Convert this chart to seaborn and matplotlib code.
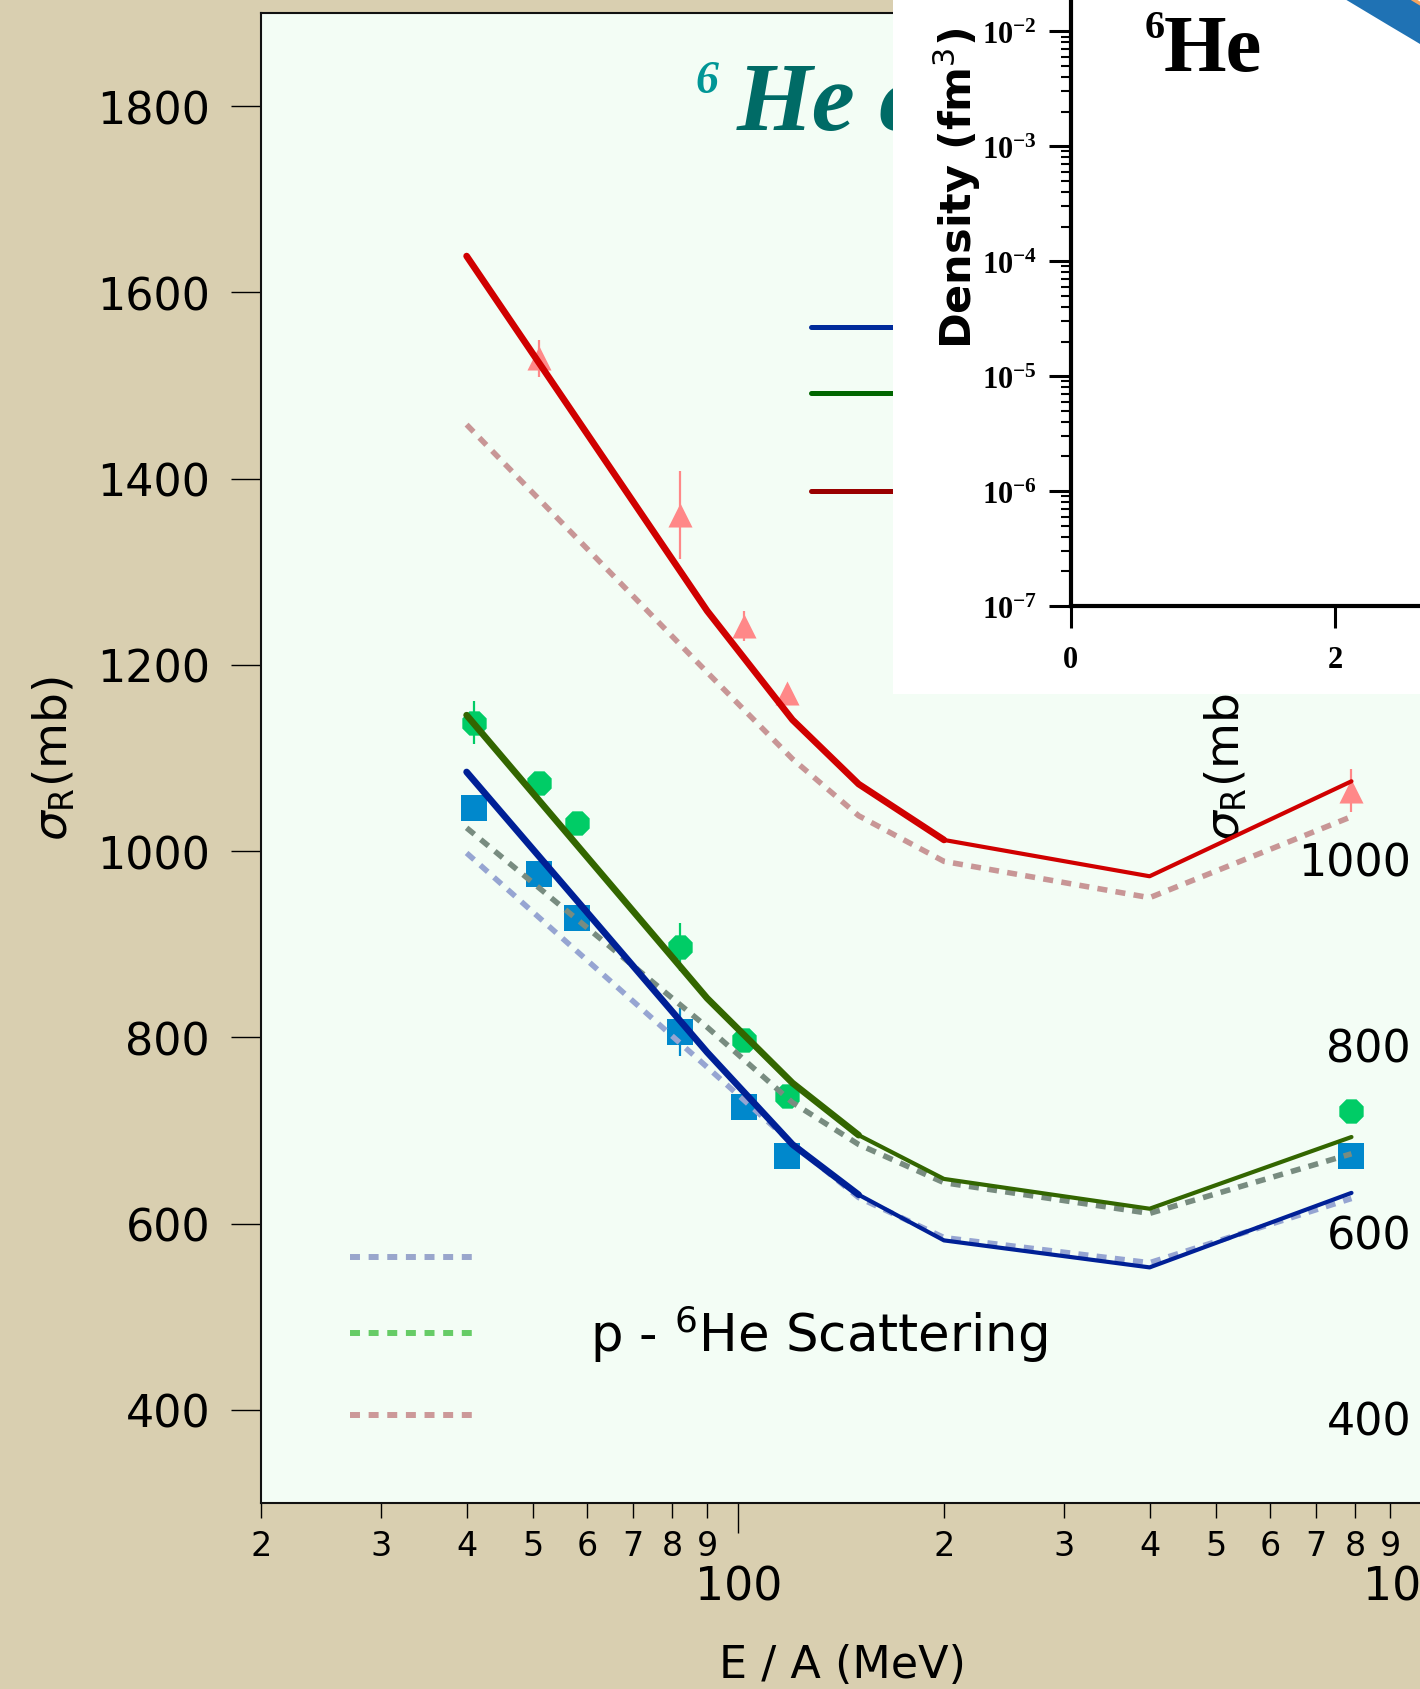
import numpy as np
import pandas as pd
import matplotlib
matplotlib.use("Agg")
import matplotlib.pyplot as plt
import seaborn as sns
from matplotlib import font_manager
from matplotlib.lines import Line2D
from matplotlib.patches import Rectangle
from matplotlib.ticker import FuncFormatter, LogLocator, NullFormatter

# ---------------- data ----------------
E_model = [40, 90, 120, 150, 200, 400, 790]
sig_blue = [1085, 784, 685, 631, 582, 553, 633]
sig_green = [1146, 842, 751, 695, 648, 616, 693]
sig_red = [1639, 1258, 1141, 1072, 1012, 973, 1075]
sig_blue_d = [998, 768, 686, 628, 585, 558, 627]
sig_green_d = [1025, 811, 730, 685, 644, 611, 675]
sig_red_d = [1458, 1192, 1099, 1038, 989, 950, 1037]

E_tri = [51, 82, 102, 118, 790]
sig_tri = [1529, 1361, 1242, 1170, 1065]
err_tri = [20, 47, 16, 8, 23]
E_oct = [41, 51, 58, 82, 102, 118, 790]
sig_oct = [1138, 1073, 1030, 897, 797, 737, 721]
err_oct = [23, 0, 0, 26, 0, 0, 5]
E_sq = [41, 51, 58, 82, 102, 118, 790]
sig_sq = [1046, 975, 928, 806, 725, 673, 673]
err_sq = [0, 0, 0, 26, 0, 0, 0]

r_in = [1.8, 2.0, 2.2, 2.4, 2.6, 2.8]
rho_lo = [0.0297, 0.0217, 0.0158, 0.0115, 0.0084, 0.0061]
rho_hi = [0.0665, 0.0486, 0.0354, 0.0258, 0.0188, 0.0137]

yticks_main = [400, 600, 800, 1000, 1200, 1400, 1600, 1800]
xmajor = [100, 1000]
xmajor_labels = ["100", "1000"]
xminor = [20, 30, 40, 50, 60, 70, 80, 90, 200, 300, 400, 500, 600, 700, 800, 900]
xminor_labels = ["2", "3", "4", "5", "6", "7", "8", "9"] * 2
inset_yticks = [1e-7, 1e-6, 1e-5, 1e-4, 1e-3, 1e-2]
inset_xticks = [0, 2]

# ---------------- style ----------------
sns.set_style("ticks")
plt.rcParams["font.family"] = ["DejaVu Sans"]
plt.rcParams["mathtext.fontset"] = "custom"
plt.rcParams["mathtext.rm"] = "DejaVu Sans"
plt.rcParams["mathtext.it"] = "DejaVu Sans:italic"
plt.rcParams["mathtext.bf"] = "Liberation Serif:bold"
for key in ["text.color", "axes.labelcolor", "xtick.color", "ytick.color", "axes.edgecolor"]:
    plt.rcParams[key] = "black"

names = {f.name for f in font_manager.fontManager.ttflist}
HAS_NARROW = "Liberation Sans Narrow" in names

BEIGE = "#d9cfb0"
MINT = "#f3fdf5"
W, H = 1420.0, 1690.0


def fx(px):
    return px / W


def fy(py):
    return 1.0 - py / H


fig = plt.figure(figsize=(14.2, 16.9), dpi=100)
fig.patch.set_facecolor(BEIGE)

# plot background
fig.add_artist(Rectangle((fx(261), fy(1504)), fx(1420) - fx(261), 1490 / H,
                         transform=fig.transFigure, facecolor=MINT,
                         edgecolor="none", zorder=-1))

# secondary (right) axis with tick labels and label
ax2 = fig.add_axes([fx(1414), fy(1504), 0.002, 1490 / H], zorder=0.5)
ax2.set_facecolor("none")
for s in ax2.spines.values():
    s.set_visible(False)
ax2.set_xticks([])
ax2.set_ylim(308, 1908)
ax2.set_yticks(yticks_main)
ax2.tick_params(axis="y", length=0, pad=2, labelsize=32)
ax2.set_ylabel(r"$\sigma_{\mathrm{R}}$(mb)", fontsize=34, labelpad=35)

# main axes
axw = 683.0 * np.log10(1010 / 20)
ax = fig.add_axes([fx(261), fy(1504), axw / W, 1490 / H], zorder=1)
ax.set_facecolor("none")
ax.set_xscale("log")
ax.set_xlim(20, 1010)
ax.set_ylim(300, 1900)

# data markers + error bars
ax.errorbar(E_tri, sig_tri, yerr=err_tri, fmt="none", ecolor="#ff8888", elinewidth=1.6, zorder=2)
ax.errorbar(E_oct, sig_oct, yerr=err_oct, fmt="none", ecolor="#00cc66", elinewidth=1.6, zorder=2)
ax.errorbar(E_sq, sig_sq, yerr=err_sq, fmt="none", ecolor="#0088cc", elinewidth=1.6, zorder=2)
sns.scatterplot(x=E_tri, y=sig_tri, marker="^", s=300, color="#ff8888", linewidth=0, ax=ax, zorder=2)
sns.scatterplot(x=E_oct, y=sig_oct, marker="8", s=360, color="#00cc66", linewidth=0, ax=ax, zorder=2)
sns.scatterplot(x=E_sq, y=sig_sq, marker="s", s=370, color="#0088cc", linewidth=0, ax=ax, zorder=2)

# dashed model curves
dash = (0, (1.8, 1.5))
for sig, col in [(sig_blue_d, "#96a5d2"), (sig_green_d, "#788c80"), (sig_red_d, "#c89696")]:
    sns.lineplot(x=E_model, y=sig, color=col, linewidth=4.0, linestyle=dash, ax=ax, zorder=3)

# solid model curves (thicker at low energy)
for sig, col, k in [(sig_blue, "#002096", 3), (sig_green, "#336600", 3), (sig_red, "#d00000", 4)]:
    sns.lineplot(x=E_model[:k + 1], y=sig[:k + 1], color=col, linewidth=4.8, ax=ax, zorder=4)
    sns.lineplot(x=E_model[k:], y=sig[k:], color=col, linewidth=3.0, ax=ax, zorder=4)

# axes cosmetics
for side in ["left", "bottom", "top"]:
    ax.spines[side].set_linewidth(1.5)
    ax.spines[side].set_color("#111111")
ax.spines["right"].set_visible(False)
ax.set_yticks(yticks_main)
ax.set_xticks(xmajor, labels=xmajor_labels)
ax.set_xticks(xminor, labels=xminor_labels, minor=True)
ax.tick_params(axis="y", which="major", length=21.6, width=1, pad=15, labelsize=32, direction="out")
ax.tick_params(axis="x", which="major", length=21.6, width=1, pad=23, labelsize=33, direction="out")
ax.tick_params(axis="x", which="minor", length=10.8, width=1, pad=8, labelsize=24, direction="out")
ax.set_xlabel("E / A (MeV)", fontsize=32, labelpad=24)
ax.set_ylabel(r"$\sigma_{\mathrm{R}}$(mb)", fontsize=34, labelpad=14)

# title (partly hidden by inset)
ax.text(fx(695), fy(93), "6", transform=fig.transFigure, fontsize=33,
        family="Liberation Serif", weight="bold", style="italic", color="#009696", va="baseline")
ax.text(fx(737), fy(130), "He cross section", transform=fig.transFigure, fontsize=70,
        family="Liberation Serif", weight="bold", style="italic", color="#006b66", va="baseline")

# legends
h_top = [Line2D([], [], color=c, lw=3.6) for c in ["#002b9b", "#006600", "#990000"]]
leg1 = ax.legend(h_top, [" ", " ", " \n "], loc="upper left",
                 bbox_to_anchor=((811 - 261) / axw, (1504 - 305) / 1490),
                 fontsize=38, frameon=False, handlelength=3.0, handletextpad=0.5, labelspacing=0.27,
                 borderpad=0, borderaxespad=0)
leg1.get_texts()[2].set_linespacing(1.0)
ax.add_artist(leg1)
h_bot = [Line2D([], [], color=c, lw=4.3, linestyle=(0, (1.67, 1.45))) for c in ["#99a6cc", "#66cc66", "#cc9999"]]
leg2 = ax.legend(h_bot, ["", r"p - $^{6}$He Scattering", " \n "], loc="center left",
                 bbox_to_anchor=((350 - 261) / axw, (1504 - 1343) / 1490), fontsize=37, frameon=False,
                 handlelength=2.37, handletextpad=2.3, labelspacing=0.31, borderpad=0, borderaxespad=0)
leg2.get_texts()[2].set_linespacing(0.2)

# white inset box
fig.add_artist(Rectangle((fx(893), fy(695)), 1 - fx(893), 695 / H, transform=fig.transFigure,
                         facecolor="white", edgecolor="none", zorder=2))

# inset density plot
ax_in = fig.add_axes([fx(1070.5), fy(607), 1 - fx(1070.5), 607 / H], zorder=3)
ax_in.set_facecolor("none")
ax_in.set_yscale("log")
ax_in.set_xlim(0, (1420 - 1070.5) / 132.0)
ax_in.set_ylim(1e-7, 10 ** -1.719)
ax_in.fill_between(r_in, rho_lo, rho_hi, color="#1f72b4", linewidth=0, zorder=2)
sns.lineplot(x=r_in, y=rho_hi, color="#f4a460", linewidth=2.5, ax=ax_in, zorder=3)
ax_in.spines["top"].set_visible(False)
ax_in.spines["right"].set_visible(False)
ax_in.spines["left"].set_linewidth(3)
ax_in.spines["bottom"].set_linewidth(3)
ax_in.set_yticks(inset_yticks)
ax_in.yaxis.set_major_formatter(FuncFormatter(lambda v, p: r"$\mathbf{10^{%d}}$" % int(round(np.log10(v)))))
ax_in.yaxis.set_minor_locator(LogLocator(base=10, subs=np.arange(2, 10)))
ax_in.yaxis.set_minor_formatter(NullFormatter())
ax_in.set_xticks(inset_xticks, labels=[r"$\mathbf{%d}$" % v for v in inset_xticks])
ax_in.tick_params(axis="y", which="major", length=16, width=2.2, pad=8, labelsize=22, direction="out")
ax_in.tick_params(axis="y", which="minor", length=7, width=1.5, direction="out")
ax_in.tick_params(axis="x", which="major", length=16, width=2.2, pad=11, labelsize=22, direction="out")
ax_in.text(fx(1145), fy(38), "6", transform=fig.transFigure, fontsize=29,
           family="Liberation Serif", weight="bold", va="baseline")
ax_in.text(fx(1164), fy(71), "He", transform=fig.transFigure, fontsize=58,
           family="Liberation Serif", weight="bold", va="baseline")
if HAS_NARROW:
    ax_in.text(fx(957), fy(188), r"Density (fm$^{3}$)", transform=fig.transFigure, rotation=90,
               ha="center", va="center", fontsize=40, family="Liberation Sans Narrow", weight="bold")
else:
    ax_in.text(fx(957), fy(188), r"Density (fm$^{3}$)", transform=fig.transFigure, rotation=90,
               ha="center", va="center", fontsize=31, family="DejaVu Sans", weight="bold")

fig.savefig("out.png", dpi=100, facecolor=fig.get_facecolor())
